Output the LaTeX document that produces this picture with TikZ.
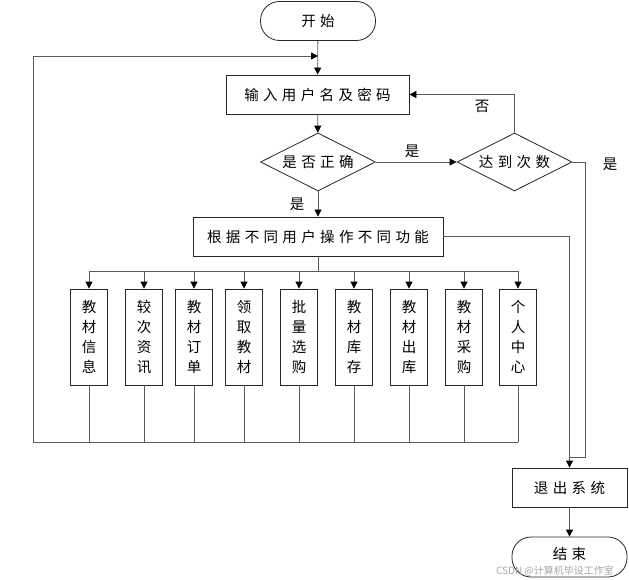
\documentclass[tikz,border=0pt]{standalone}
\usepackage{fontspec}
\newfontfamily\cjk[LetterSpace=30]{Noto Sans CJK SC}
\newfontfamily\cjkplain{Noto Sans CJK SC}
\usetikzlibrary{arrows.meta,shapes.geometric,calc}
\definecolor{lineg}{HTML}{5A5A5A}
\begin{document}
\begin{tikzpicture}[x=1pt,y=-1pt,
  every node/.style={font=\cjk\fontsize{14.5}{20}\selectfont},
  box/.style={draw=black!85,line width=0.8pt,inner sep=0pt,minimum width=#1,minimum height=39},
  term/.style={draw=black!85,line width=0.8pt,inner sep=0pt,minimum width=115,minimum height=39,rounded corners=19pt},
  dec/.style={draw=black!85,line width=0.8pt,diamond,shape aspect=2,inner sep=0pt,minimum width=115,minimum height=58},
  small/.style={draw=black!85,line width=0.8pt,inner sep=0pt,minimum width=37,minimum height=96,align=center},
  conn/.style={draw=lineg,line width=0.8pt},
  arr/.style={conn,-{Triangle[length=7pt,width=7pt,black]}},
  lbl/.style={inner sep=0pt}
]
\useasboundingbox (0,0) rectangle (629,580);

\node[term] (start) at (318,21) {开始};
\node[box=183] (input) at (317.5,94.5) {输入用户名及密码};
\node[dec] (d1) at (318,162) {是否正确};
\node[dec] (d2) at (514.5,162) {达到次数};
\node[box=250] (func) at (318,236.5) {根据不同用户操作不同功能};
\node[box=115] (exit) at (569.5,487.5) {退出系统};
\node[term,minimum height=40] (end) at (569.5,557) {};
\node[lbl] (endtxt) at (569.5,554) {结束};

\foreach \n/\x/\t in {s1/89/教\\材\\信\\息, s2/144/较\\次\\资\\讯, s3/194/教\\材\\订\\单, s4/244/领\\取\\教\\材, s5/299/批\\量\\选\\购, s6/354/教\\材\\库\\存, s7/409/教\\材\\出\\库, s8/464/教\\材\\采\\购, s9/518/个\\人\\中\\心}{
  \node[small] (\n) at (\x,337) {\t};
}

\coordinate (busL) at (89,271);
\coordinate (busR) at (518,271);
\coordinate (botL) at (33,442);
\coordinate (botR) at (518,442);
\coordinate (loopTop) at (33,56);
\coordinate (loopEnd) at (318,56);
\coordinate (rightTurn) at (585,162);
\coordinate (join) at (569.5,457);

% main flow
\draw[arr] (start) -- (input);
\draw[arr] (input) -- (d1);
\draw[arr] (d1) -- node[lbl,above=4pt,pos=0.45] {是} (d2);
\draw[arr] (d2.north) |- (input.east);
\node[lbl] at (482,106) {否};
\draw[arr] (d1.south) -- (func.north);
\node[lbl] at (297,204) {是};
\draw[conn] (d2.east) -- (rightTurn) |- (join);
\node[lbl] at (610,164) {是};
\draw[arr] (func.east) -| (exit.north);
\draw[arr] (exit) -- (end);

% bus
\draw[conn] (func.south) -- (func.south |- busL);
\draw[conn] (busL) -- (busR);
\foreach \n in {s1,s2,s3,s4,s5,s6,s7,s8,s9}{
  \draw[arr] (\n.north |- busL) -- (\n.north);
  \draw[conn] (\n.south) -- (\n.south |- botL);
}
\draw[conn] (botR) -- (botL) -- (loopTop);
\draw[arr] (loopTop) -- (loopEnd);

\node[inner sep=0pt,text=black!35,font=\cjkplain\fontsize{10}{11}\selectfont] at (555,571) {CSDN @计算机毕设工作室};
\end{tikzpicture}
\end{document}
